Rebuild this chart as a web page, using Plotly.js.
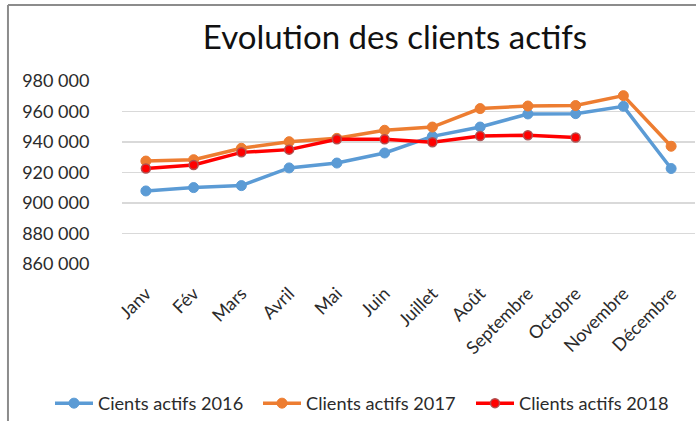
<!DOCTYPE html>
<html>
<head>
<meta charset="utf-8">
<script src="https://cdn.plot.ly/plotly-3.0.1.min.js"></script>
<style>html,body{margin:0;padding:0;background:#fff;}#chart{width:696px;height:421px;}</style>
</head>
<body>
<div id="chart"></div>
<script>
const months = ["Janv","Fév","Mars","Avril","Mai","Juin","Juillet","Août","Septembre","Octobre","Novembre","Décembre"];
const clients2016 = [907900, 910100, 911400, 923000, 926200, 932800, 943700, 949800, 958400, 958600, 963400, 922600];
const clients2017 = [927500, 928400, 935900, 940200, 942400, 947700, 949800, 961900, 963600, 963900, 970400, 937200];
const clients2018 = [922600, 924900, 933200, 935000, 941800, 941800, 939800, 943900, 944400, 942900];
const seriesNames = ["Cients actifs 2016", "Clients actifs 2017", "Clients actifs 2018"];
const yTicks = [860000, 880000, 900000, 920000, 940000, 960000, 980000];

const FONT = "Lato, 'Open Sans', sans-serif";

const traces = [
  {x: months, y: clients2016, name: seriesNames[0], type: "scatter", mode: "lines+markers", legend: "legend",
   line: {color: "#5B9BD5", width: 3.5}, marker: {color: "#5B9BD5", size: 10, line: {color: "#5B9BD5", width: 1}}},
  {x: months, y: clients2017, name: seriesNames[1], type: "scatter", mode: "lines+markers", legend: "legend2",
   line: {color: "#ED7D31", width: 3.5}, marker: {color: "#ED7D31", size: 10, line: {color: "#ED7D31", width: 1}}},
  {x: months.slice(0, clients2018.length), y: clients2018, name: seriesNames[2], type: "scatter", mode: "lines+markers", legend: "legend3",
   line: {color: "#FF0000", width: 3.5}, marker: {color: "#FF0000", size: 9, line: {color: "#B05050", width: 1.5}}}
];

function legendAt(xpx) {
  return {orientation: "h", xref: "container", x: xpx / 696, xanchor: "left", yref: "container", y: 0.042, yanchor: "middle",
          font: {family: FONT, size: 18.2, color: "#2b2b2b"}, itemwidth: 38, bgcolor: "rgba(0,0,0,0)"};
}

const layout = {
  width: 696, height: 421,
  margin: {l: 122, r: 1, t: 81, b: 157},
  paper_bgcolor: "#fff", plot_bgcolor: "#fff",
  separators: ", ",
  font: {family: FONT, color: "#2b2b2b", size: 16},
  title: {text: "Evolution des clients actifs", font: {family: FONT, size: 33, color: "#111"},
          xref: "container", x: 0.5675, xanchor: "center", yref: "container", y: 0.911, yanchor: "middle"},
  xaxis: {type: "category", range: [-0.5, 11.5], showgrid: false, zeroline: false, showline: false,
          tickangle: -45, ticks: "outside", ticklen: 11, tickcolor: "rgba(0,0,0,0)",
          tickfont: {family: FONT, size: 18, color: "#2b2b2b"}, fixedrange: true},
  yaxis: {range: [860000, 980000], tickvals: yTicks, tickformat: ",d", showgrid: true, gridcolor: "#D9D9D9", gridwidth: 1.5,
          zeroline: false, showline: false, ticks: "outside", ticklen: 28, tickcolor: "rgba(0,0,0,0)",
          tickfont: {family: FONT, size: 18, color: "#2b2b2b"}, fixedrange: true},
  showlegend: true,
  legend: legendAt(50),
  legend2: legendAt(258),
  legend3: legendAt(471),
  shapes: [
    {type: "line", xref: "paper", yref: "paper", x0: -0.199, x1: 1.01, y0: 1.415, y1: 1.415, line: {color: "#8c8c8c", width: 2}},
    {type: "line", xref: "paper", yref: "paper", x0: -0.199, x1: -0.199, y0: 1.415, y1: -0.9, line: {color: "#8c8c8c", width: 2}}
  ]
};

Plotly.newPlot("chart", traces, layout, {displayModeBar: false, staticPlot: true});
</script>
</body>
</html>
